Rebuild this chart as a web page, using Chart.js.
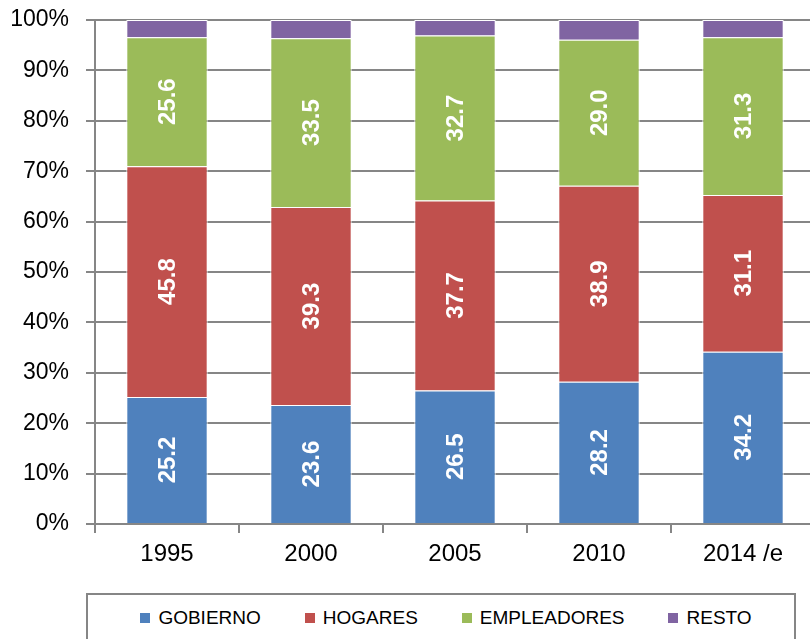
<!DOCTYPE html>
<html lang="es">
<head>
<meta charset="UTF-8">
<title>Distribución por sector</title>
<script src="https://cdn.jsdelivr.net/npm/chart.js@4.4.1/dist/chart.umd.min.js"></script>
<style>
    html, body { margin: 0; padding: 0; background: #fff; overflow: hidden; }
    .wrap { position: relative; width: 810px; height: 639px; overflow: hidden; }
    .chart-box { position: absolute; left: 0; top: 0; width: 815px; height: 580px; }
    .legend { position: absolute; left: 86px; top: 593px; width: 710px; height: 70px;
              border: 2px solid #868686; box-sizing: border-box; display: flex;
              justify-content: center; align-items: flex-start; padding: 12px 0 0 10px;
              font-family: "Liberation Sans", Arial, sans-serif; font-size: 19px; color: #000; }
    .legend .item { display: flex; align-items: center; margin: 0 22px; }
    .legend .sw { width: 10px; height: 10px; margin-right: 8px; }
</style>
</head>
<body>
<div class="wrap">
    <div class="chart-box"><canvas id="chart"></canvas></div>
    <div class="legend" id="legend"></div>
</div>
<script>
// categories and series (percent of total)
const years = ['1995', '2000', '2005', '2010', '2014 /e'];
const gobierno = [25.2, 23.6, 26.5, 28.2, 34.2];
const hogares = [45.8, 39.3, 37.7, 38.9, 31.1];
const empleadores = [25.6, 33.5, 32.7, 29.0, 31.3];
const resto = [3.4, 3.6, 3.1, 3.9, 3.4];
const yTicks = [0, 10, 20, 30, 40, 50, 60, 70, 80, 90, 100];

const seriesNames = ['GOBIERNO', 'HOGARES', 'EMPLEADORES', 'RESTO'];
const seriesColors = ['#4F81BD', '#C0504D', '#9BBB59', '#8064A2'];
const seriesData = [gobierno, hogares, empleadores, resto];
const showLabel = [true, true, true, false];

// white rotated value labels inside the bars
const barLabels = {
    id: 'barLabels',
    afterDatasetsDraw(chart) {
        const ctx = chart.ctx;
        ctx.save();
        ctx.fillStyle = '#fff';
        ctx.font = 'bold 24px "Liberation Sans", Arial, sans-serif';
        ctx.textAlign = 'center';
        ctx.textBaseline = 'middle';
        chart.data.datasets.forEach((ds, i) => {
            if (!showLabel[i]) return;
            chart.getDatasetMeta(i).data.forEach((bar, j) => {
                const y = (bar.y + bar.base) / 2;
                ctx.save();
                ctx.translate(bar.x, y);
                ctx.rotate(-Math.PI / 2);
                ctx.fillText(ds.data[j].toFixed(1), 0, 1);
                ctx.restore();
            });
        });
        ctx.restore();
    }
};

const tickFont = { family: '"Liberation Sans", Arial, sans-serif', size: 23 };

new Chart(document.getElementById('chart'), {
    type: 'bar',
    data: {
        labels: years,
        datasets: seriesNames.map((name, i) => ({
            label: name,
            data: seriesData[i],
            backgroundColor: seriesColors[i],
            borderColor: '#ffffff',
            borderWidth: 1,
            barPercentage: 0.565,
            categoryPercentage: 1
        }))
    },
    options: {
        responsive: true,
        maintainAspectRatio: false,
        animation: false,
        layout: { padding: { top: 20, left: 0, right: 0, bottom: 0 } },
        plugins: {
            legend: { display: false },
            tooltip: { enabled: false }
        },
        scales: {
            x: {
                stacked: true,
                grid: { drawOnChartArea: false, drawTicks: true, tickLength: 9, offset: true, color: '#868686', lineWidth: 2 },
                border: { color: '#868686', width: 2 },
                ticks: { color: '#000', font: { ...tickFont, size: 24 }, padding: 7, maxRotation: 0 },
                afterFit(scale) { scale.height = 56; scale.paddingLeft = 0; scale.paddingRight = 0; }
            },
            y: {
                stacked: true,
                min: 0,
                max: 100,
                afterBuildTicks(scale) { scale.ticks = yTicks.map(v => ({ value: v })); },
                grid: { color: '#868686', lineWidth: 2, tickLength: 9 },
                border: { color: '#868686', width: 2 },
                ticks: { color: '#000', font: tickFont, padding: 17, callback: v => v + '%' },
                afterFit(scale) { scale.width = 95; scale.paddingTop = 0; scale.paddingBottom = 0; }
            }
        }
    },
    plugins: [barLabels]
});

// legend box below the plot
const legend = document.getElementById('legend');
seriesNames.forEach((name, i) => {
    const item = document.createElement('div');
    item.className = 'item';
    item.innerHTML = `<span class="sw" style="background:${seriesColors[i]}"></span><span>${name}</span>`;
    legend.appendChild(item);
});
</script>
</body>
</html>
